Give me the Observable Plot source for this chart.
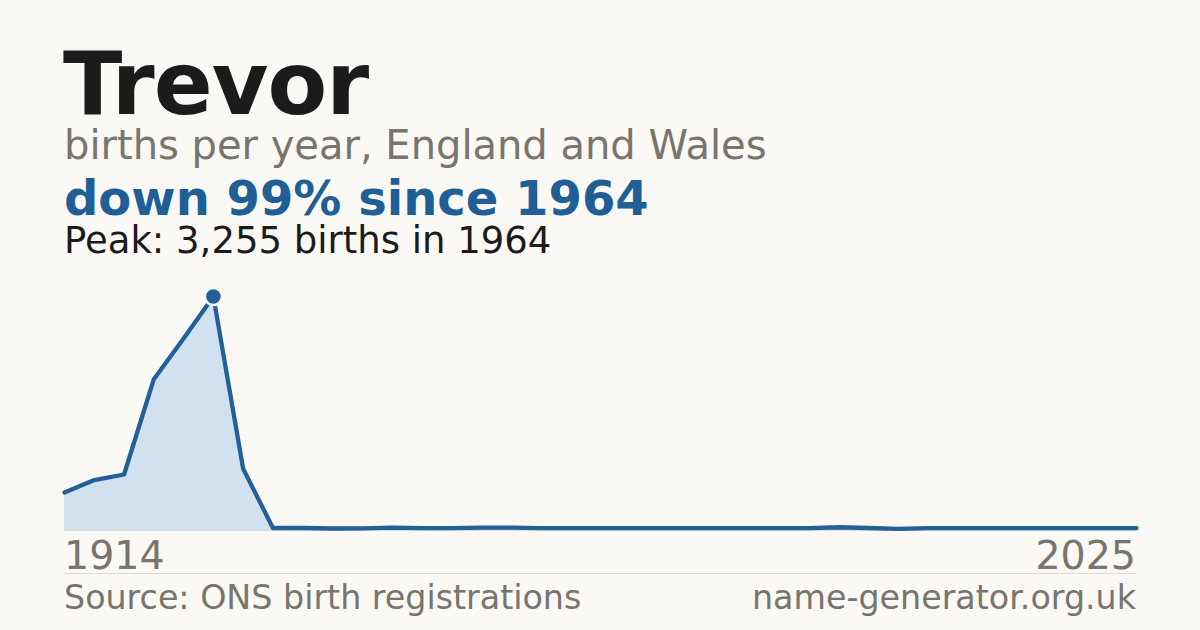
<!DOCTYPE html>
<html>
<head>
<meta charset="utf-8">
<script src="https://cdn.jsdelivr.net/npm/d3@7"></script>
<script src="https://cdn.jsdelivr.net/npm/@observablehq/plot@0.6"></script>
<style>
  html, body { margin: 0; padding: 0; background: #faf9f5; }
  body { width: 1200px; height: 630px; position: relative; overflow: hidden; font-family: "DejaVu Sans", sans-serif; }
  .t { position: absolute; white-space: nowrap; line-height: 0.9; }
  #chart { position: absolute; left: 0; top: 280px; }
  #divider { position: absolute; left: 64px; width: 1072px; top: 573px; height: 1px; background: #dedad3; }
</style>
</head>
<body>
<div class="t" id="title" style="left:63px; top:44.7px; font-size:87px; font-weight:bold; color:#1b1b1b; letter-spacing:-1px;"></div>
<div class="t" id="subtitle" style="left:64px; top:127.2px; font-size:40px; color:#78746e;"></div>
<div class="t" id="headline" style="left:64px; top:176.8px; font-size:48px; font-weight:bold; color:#1f5f96;"></div>
<div class="t" id="peak" style="left:64px; top:223.5px; font-size:37px; color:#1b1b1b;"></div>
<div id="chart"></div>
<div class="t" id="yearStart" style="left:64px; top:537.6px; font-size:39.5px; color:#78746e;"></div>
<div class="t" id="yearEnd" style="right:64px; top:537.6px; font-size:39.5px; color:#78746e;"></div>
<div id="divider"></div>
<div class="t" id="source" style="left:64px; top:582.5px; font-size:33.3px; color:#78746e;"></div>
<div class="t" id="site" style="right:64px; top:582.5px; font-size:33.3px; color:#78746e;"></div>
<script>
const nameText = "Trevor";
const subtitleText = "births per year, England and Wales";
const headlineText = "down 99% since 1964";
const peakText = "Peak: 3,255 births in 1964";
const sourceText = "Source: ONS birth registrations";
const siteText = "name-generator.org.uk";

const years = [1914, 1924, 1934, 1944, 1954, 1964, 1974,
  1996, 1997, 1998, 1999, 2000, 2001, 2002, 2003, 2004, 2005,
  2006, 2007, 2008, 2009, 2010, 2011, 2012, 2013, 2014, 2015,
  2016, 2017, 2018, 2019, 2020, 2021, 2022, 2023, 2024, 2025];
const births = [529, 702, 779, 2105, 2670, 3255, 858,
  35, 35, 28, 30, 40, 32, 33, 40, 40, 34,
  34, 34, 34, 34, 34, 34, 34, 34, 34, 45,
  35, 22, 33, 34, 34, 34, 34, 34, 34, 34];

document.getElementById("title").textContent = nameText;
document.getElementById("subtitle").textContent = subtitleText;
document.getElementById("headline").textContent = headlineText;
document.getElementById("peak").textContent = peakText;
document.getElementById("source").textContent = sourceText;
document.getElementById("site").textContent = siteText;
document.getElementById("yearStart").textContent = String(years[0]);
document.getElementById("yearEnd").textContent = String(years[years.length - 1]);

const data = years.map((y, i) => ({idx: i, year: y, births: births[i]}));
const maxVal = d3.max(births);
const peakRow = data.filter(d => d.births === maxVal);

const plot = Plot.plot({
  width: 1200,
  height: 260,
  marginLeft: 64,
  marginRight: 64,
  marginTop: 16,
  marginBottom: 10,
  style: {background: "transparent", overflow: "visible"},
  x: {type: "linear", domain: [0, years.length - 1], axis: null},
  y: {domain: [0, maxVal], axis: null},
  marks: [
    Plot.areaY(data, {x: "idx", y: "births", fill: "#d1e1f0"}),
    Plot.ruleY([0], {stroke: "#dcdad4", strokeWidth: 1}),
    Plot.lineY(data, {x: "idx", y: "births", stroke: "#23609a", strokeWidth: 4.3, strokeLinejoin: "round"}),
    Plot.dot(peakRow, {x: "idx", y: "births", r: 8.5, fill: "#22609a", stroke: "#faf9f5", strokeWidth: 2.5})
  ]
});
document.getElementById("chart").appendChild(plot);
</script>
</body>
</html>
